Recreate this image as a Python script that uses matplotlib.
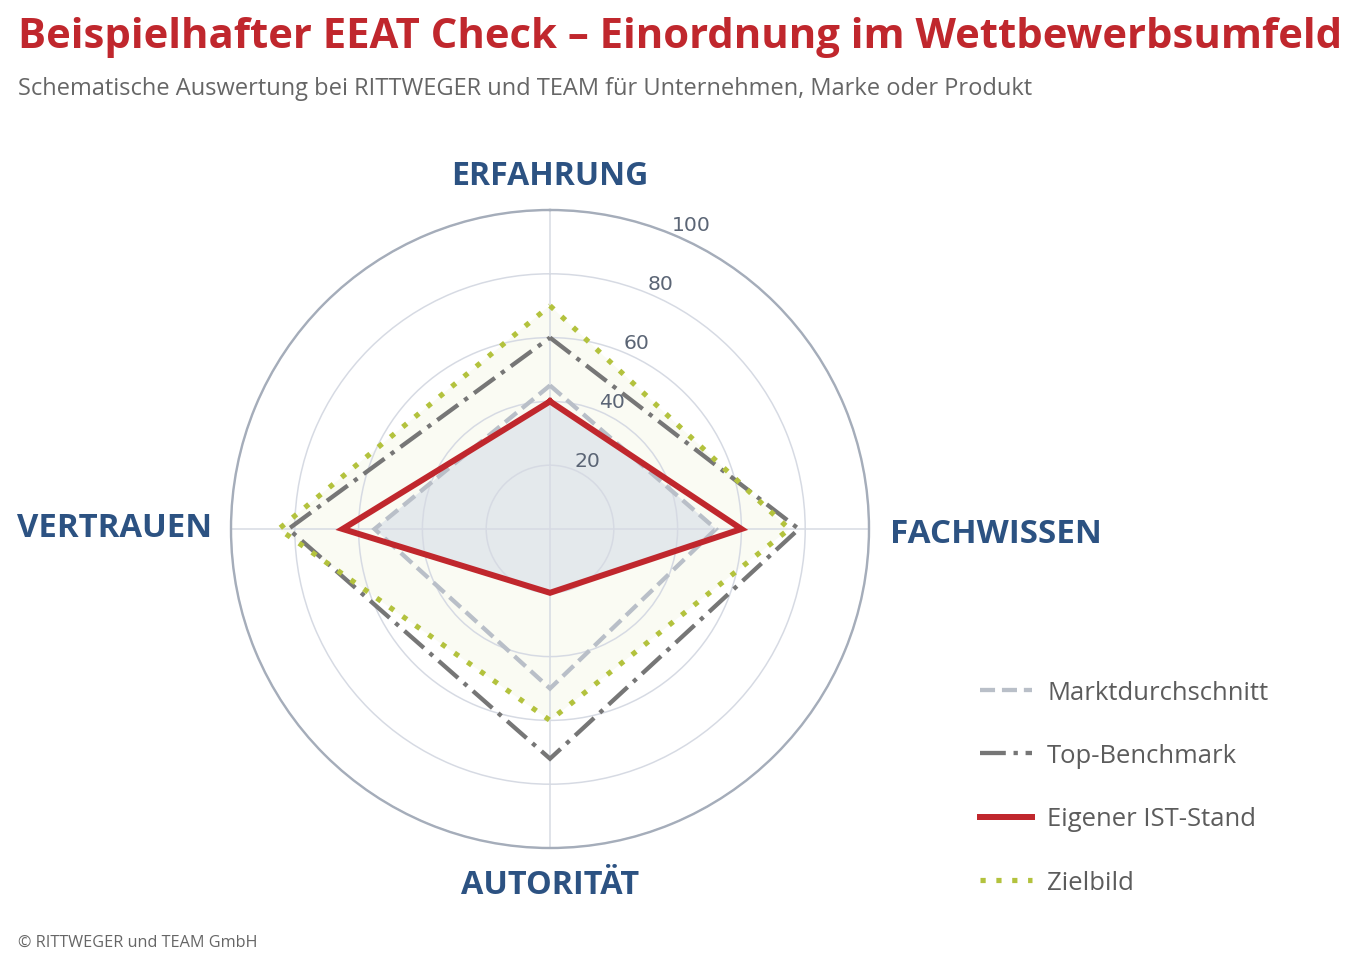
import numpy as np
import matplotlib
matplotlib.use('Agg')
import matplotlib.pyplot as plt
from matplotlib.lines import Line2D

# ---------------- data ----------------
categories = ['ERFAHRUNG', 'FACHWISSEN', 'AUTORITÄT', 'VERTRAUEN']
markt = [45, 52, 50, 55]
top_benchmark = [60, 78, 72, 82]
eigener = [40, 60, 20, 65]
zielbild = [70, 75, 60, 85]
r_ticks = [20, 40, 60, 80, 100]
series_labels = ['Marktdurchschnitt', 'Top-Benchmark', 'Eigener IST-Stand', 'Zielbild']

title = 'Beispielhafter EEAT Check – Einordnung im Wettbewerbsumfeld'
subtitle = 'Schematische Auswertung bei RITTWEGER und TEAM für Unternehmen, Marke oder Produkt'
footer = '© RITTWEGER und TEAM GmbH'

# ---------------- styles ----------------
W, H, DPI = 1358, 962, 100
PX = 72 / DPI
FONT = 'Open Sans'
plt.rcParams['font.family'] = [FONT, 'DejaVu Sans']

C_RED = '#c0272d'
C_BLUE = '#2c5282'
C_MARKT = '#b9bfc8'
C_TOP = '#767676'
C_ZIEL = '#b3c23d'
C_TXT = '#5c5c5c'

fig = plt.figure(figsize=(W / DPI, H / DPI), dpi=DPI)
fig.patch.set_facecolor('white')
renderer = fig.canvas.get_renderer()


def fit(t, target_px):
    for _ in range(2):
        w = t.get_window_extent(renderer).width
        t.set_fontsize(t.get_fontsize() * target_px / w)
    return t.get_fontsize()


cx, cy, R = 550, 530, 319
ax = fig.add_axes([(cx - R) / W, (H - cy - R) / H, 2 * R / W, 2 * R / H],
                  projection='polar')
ax.set_theta_offset(np.pi / 2)
ax.set_theta_direction(-1)
ax.set_ylim(0, 100)

n = len(categories)
angles = np.arange(n) * 2 * np.pi / n
th = np.append(angles, angles[0])


def close(v):
    return np.append(v, v[0])


# fills
ax.fill(th, close(zielbild), facecolor='#fafbf3', edgecolor='none', zorder=1)
clip = ax.fill(th, close(eigener), facecolor='none', edgecolor='none', zorder=0.5)[0]
mf = ax.fill(th, close(markt), facecolor='#e4e9ec', edgecolor='none', zorder=1.1)[0]
mf.set_clip_path(clip)

styles = [
    dict(color=C_MARKT, lw=4.3 * PX, linestyle=(0, (3.5, 1.6))),
    dict(color=C_TOP, lw=4.3 * PX, linestyle=(0, (6.0, 1.8, 1.0, 1.8))),
    dict(color=C_RED, lw=6.0 * PX, linestyle='-'),
    dict(color=C_ZIEL, lw=5.2 * PX, linestyle=(0, (1.0, 2.05))),
]
series = [markt, top_benchmark, eigener, zielbild]
zorders = [3, 3, 4, 3.5]
for vals, st, z in zip(series, styles, zorders):
    ax.plot(th, close(vals), zorder=z, solid_joinstyle='miter',
            dash_joinstyle='miter', **st)

# grid
ax.set_xticks(angles)
ax.set_xticklabels([])
ax.set_yticks(r_ticks)
ax.set_yticklabels([str(t) for t in r_ticks])
ax.tick_params(axis='y', colors='#5b6575', labelsize=14.7)
for lab in ax.get_yticklabels():
    lab.set_family('DejaVu Sans')
ax.set_rlabel_position(22.5)
ax.grid(color='#d6dae3', lw=1.5 * PX)
ax.spines['polar'].set_color('#a5adba')
ax.spines['polar'].set_linewidth(2.4 * PX)

# category labels
label_cfg = {
    'ERFAHRUNG': dict(off=(0, 26), ha='center', w=197),
    'FACHWISSEN': dict(off=(21, -13), ha='left', w=212),
    'AUTORITÄT': dict(off=(0, -45), ha='center', w=178),
    'VERTRAUEN': dict(off=(-19, -7), ha='right', w=194),
}
for ang, cat in zip(angles, categories):
    cfg = label_cfg[cat]
    t = ax.annotate(cat, xy=(ang, 100), xytext=(cfg['off'][0] * PX, cfg['off'][1] * PX),
                    textcoords='offset points', ha=cfg['ha'], va='baseline',
                    color=C_BLUE, fontweight='bold', fontsize=24, annotation_clip=False)
    fit(t, cfg['w'])

# title, subtitle, footer
t = fig.text(18 / W, (H - 48) / H, title, color=C_RED, fontweight='bold',
             fontsize=30, va='baseline', ha='left')
fit(t, 1324)
t = fig.text(18 / W, (H - 95) / H, subtitle, color='#666666', fontsize=18,
             va='baseline', ha='left')
fit(t, 1017)
t = fig.text(18 / W, (H - 947) / H, footer, color='#666666', fontsize=12,
             va='baseline', ha='left')
fit(t, 240)

# legend
tmp = fig.text(0, 0, series_labels[0], fontsize=18)
leg_fs = fit(tmp, 221)
row_h = tmp.get_window_extent(renderer).height
tmp.remove()
fs_px = leg_fs / PX
handles = [Line2D([], [], solid_joinstyle='miter', **st) for st in styles]
leg = fig.legend(handles, series_labels, loc='upper left',
                 bbox_to_anchor=(980 / W, 1 - (693 - row_h / 2) / H),
                 frameon=False, fontsize=leg_fs,
                 handlelength=52 / fs_px, handletextpad=15 / fs_px,
                 labelspacing=(63.5 - row_h) / fs_px,
                 borderpad=0, borderaxespad=0, labelcolor=C_TXT)

fig.savefig('out.png', dpi=DPI, facecolor='white')
